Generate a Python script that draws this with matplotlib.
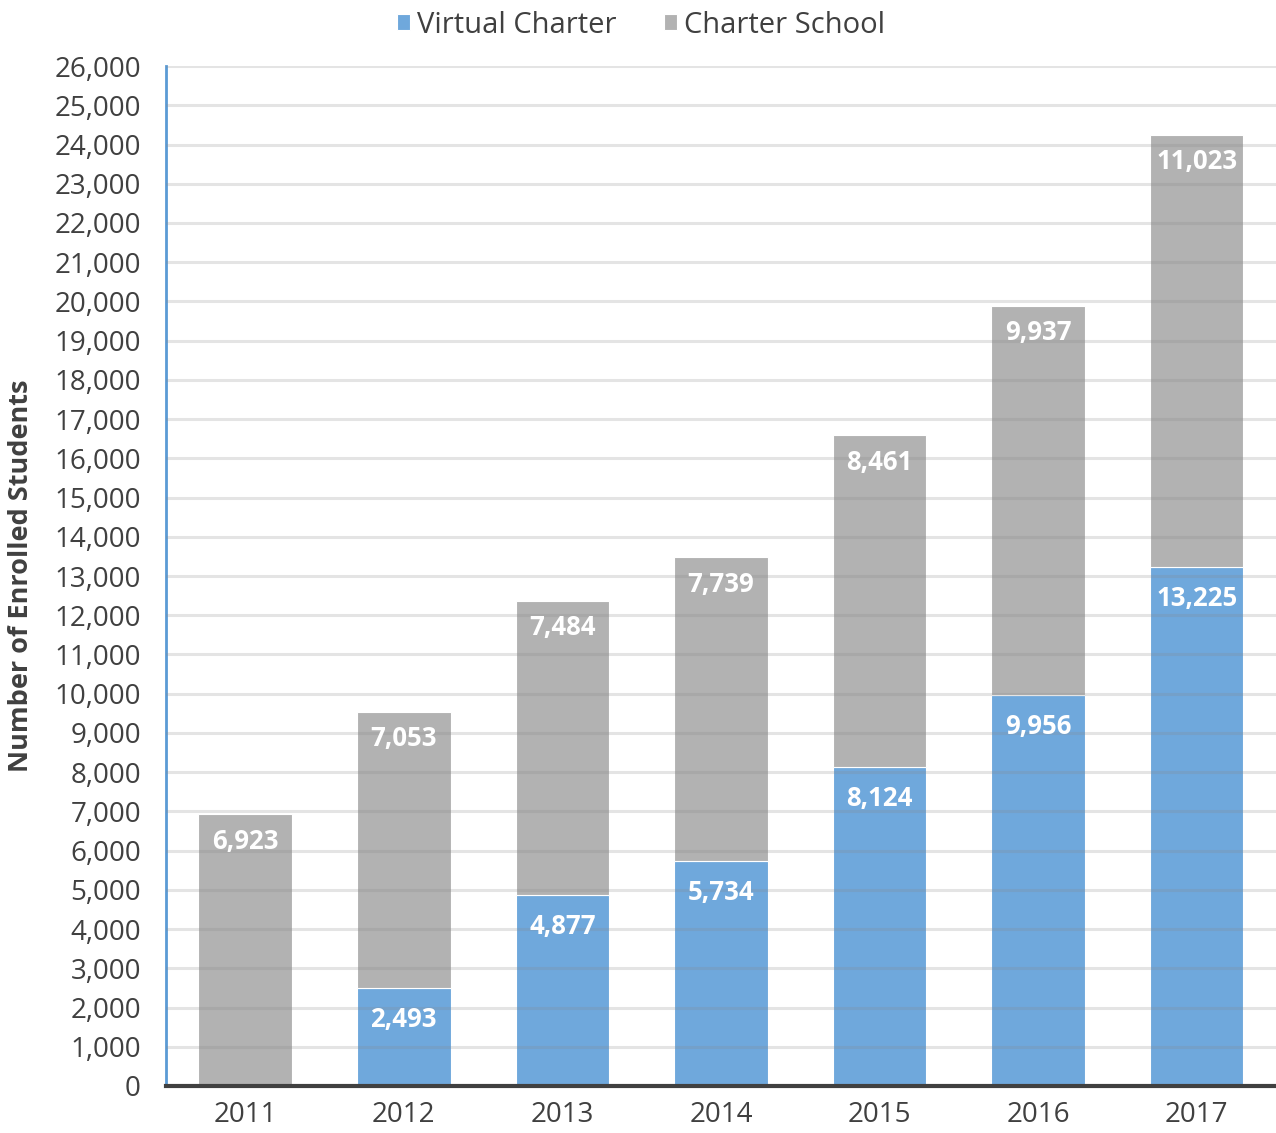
import numpy as np
import matplotlib
matplotlib.use('Agg')
import matplotlib.pyplot as plt

# datos
years = ['2011', '2012', '2013', '2014', '2015', '2016', '2017']
virtual = [0, 2493, 4877, 5734, 8124, 9956, 13225]
charter = [6923, 7053, 7484, 7739, 8461, 9937, 11023]

blue = '#6fa8dc'
gray = '#b2b2b2'
text_color = '#404040'

plt.rcParams['font.family'] = ['Open Sans', 'DejaVu Sans']

fig = plt.figure(figsize=(12.76, 11.33), dpi=100)
ax = fig.add_axes([0.130, 0.0415, 0.870, 0.9002])

x = np.arange(len(years))
ancho = 0.59
ax.bar(x, virtual, ancho, color=blue, label='Virtual Charter', zorder=2,
       edgecolor='white', linewidth=0.8)
ax.bar(x, charter, ancho, bottom=virtual, color=gray, label='Charter School', zorder=2,
       edgecolor='white', linewidth=0.8)

# etiquetas de valores dentro de las barras
for i in range(len(years)):
    if virtual[i] > 0:
        ax.text(x[i], virtual[i] - 800, f'{virtual[i]:,}', ha='center', va='center',
                color='white', fontsize=18.5, fontweight='bold', zorder=4)
    top = virtual[i] + charter[i]
    ax.text(x[i], top - 680, f'{charter[i]:,}', ha='center', va='center',
            color='white', fontsize=18.5, fontweight='bold', zorder=4)

ax.set_xlim(-0.5, 6.5)
ax.set_ylim(0, 26000)
ax.set_yticks(np.arange(0, 26001, 1000))
ax.set_yticklabels([f'{v:,}' for v in range(0, 26001, 1000)])
ax.set_xticks(x)
ax.set_xticklabels(years)
ax.tick_params(axis='both', length=0, labelsize=20, colors=text_color)
ax.tick_params(axis='x', pad=11)
ax.tick_params(axis='y', pad=18)

ax.grid(axis='y', color='#888888', alpha=0.22, linewidth=2.2, zorder=3)
ax.set_axisbelow(False)

for s in ['top', 'right']:
    ax.spines[s].set_visible(False)
ax.spines['left'].set_color('#5b9bd5')
ax.spines['left'].set_linewidth(2)
ax.spines['bottom'].set_color(text_color)
ax.spines['bottom'].set_linewidth(3)
ax.spines['bottom'].set_zorder(5)

ax.set_ylabel('Number of Enrolled Students', fontsize=19.5, fontweight='bold',
              color=text_color)
ax.yaxis.set_label_coords(-0.119, 0.5)

ax.legend(loc='upper center', bbox_to_anchor=(0.428, 1.08), ncol=2, frameon=False,
          fontsize=21, handlelength=0.45, handleheight=0.45, handletextpad=0.25,
          columnspacing=1.6, labelcolor=text_color)

plt.savefig('out.png', dpi=100)
